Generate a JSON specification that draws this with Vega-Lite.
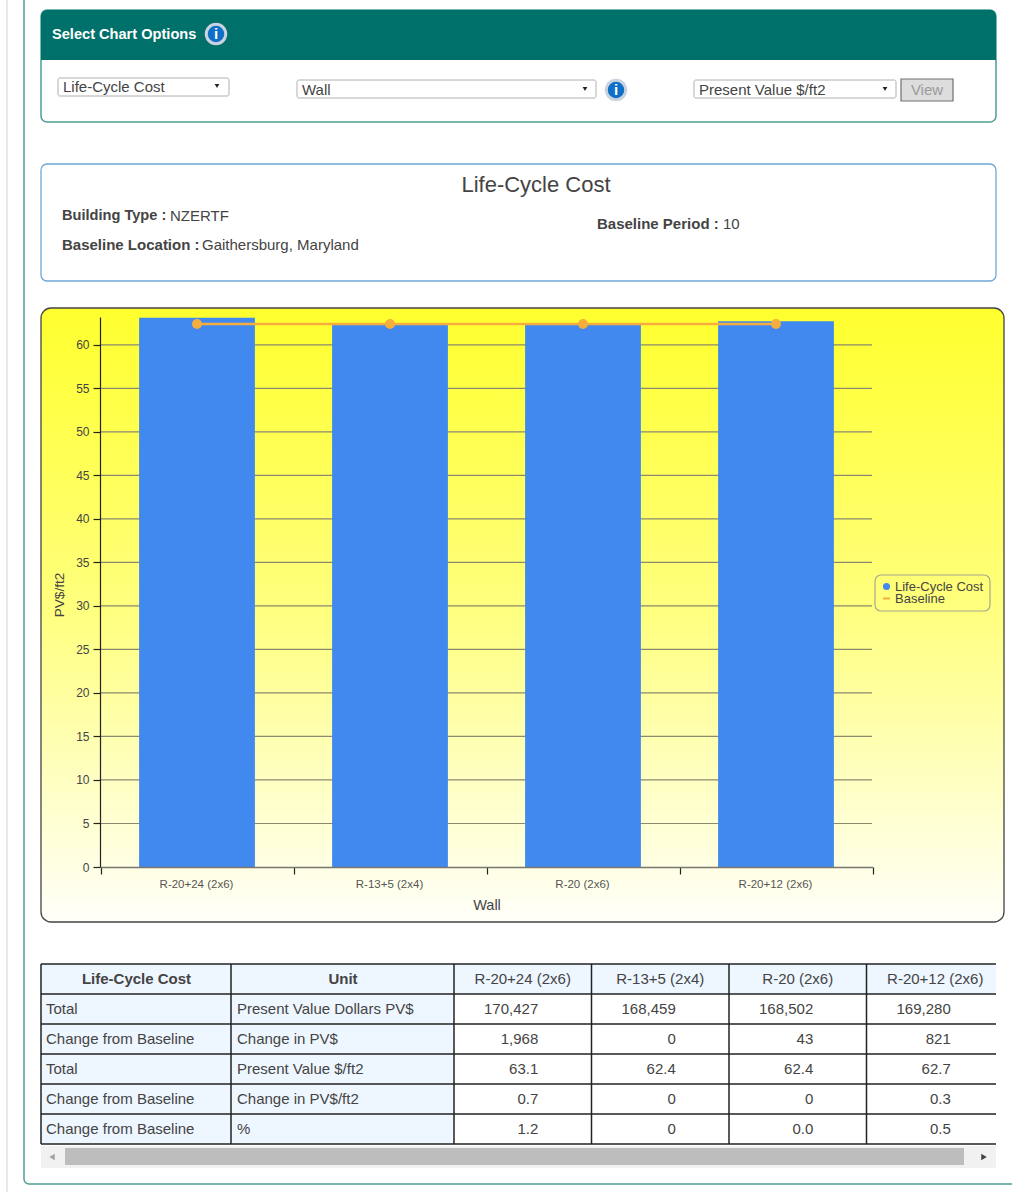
{
"$schema":"https://vega.github.io/schema/vega-lite/v6.json",
"width":1012,"height":1192,"padding":0,"autosize":{"type":"none"},"background":"#ffffff",
"config":{"view":{"stroke":null},"font":"Liberation Sans","text":{"font":"Liberation Sans","fontSize":15,"color":"#444444","baseline":"middle","align":"left"}},
"data":{"values":[{"chrome":1}]},
"datasets":{
"chart":[
{"wall":"R-20+24 (2x6)","series":"Life-Cycle Cost","value":63.1},
{"wall":"R-13+5 (2x4)","series":"Life-Cycle Cost","value":62.4},
{"wall":"R-20 (2x6)","series":"Life-Cycle Cost","value":62.4},
{"wall":"R-20+12 (2x6)","series":"Life-Cycle Cost","value":62.7}],
"baseline":[
{"wall":"R-20+24 (2x6)","series":"Baseline","value":62.4},
{"wall":"R-13+5 (2x4)","series":"Baseline","value":62.4},
{"wall":"R-20 (2x6)","series":"Baseline","value":62.4},
{"wall":"R-20+12 (2x6)","series":"Baseline","value":62.4}],
"ticks":[{"tick":5},{"tick":10},{"tick":15},{"tick":20},{"tick":25},{"tick":30},{"tick":35},{"tick":40},{"tick":45},{"tick":50},{"tick":55},{"tick":60}],
"rows":[
{"metric":"Total","unit":"Present Value Dollars PV$"},
{"metric":"Change from Baseline","unit":"Change in PV$"},
{"metric":"Total","unit":"Present Value $/ft2"},
{"metric":"Change from Baseline","unit":"Change in PV$/ft2"},
{"metric":"Change from Baseline","unit":"%"}],
"cells":[
{"unit":"Present Value Dollars PV$","wall":"R-20+24 (2x6)","text":"170,427"},
{"unit":"Present Value Dollars PV$","wall":"R-13+5 (2x4)","text":"168,459"},
{"unit":"Present Value Dollars PV$","wall":"R-20 (2x6)","text":"168,502"},
{"unit":"Present Value Dollars PV$","wall":"R-20+12 (2x6)","text":"169,280"},
{"unit":"Change in PV$","wall":"R-20+24 (2x6)","text":"1,968"},
{"unit":"Change in PV$","wall":"R-13+5 (2x4)","text":"0"},
{"unit":"Change in PV$","wall":"R-20 (2x6)","text":"43"},
{"unit":"Change in PV$","wall":"R-20+12 (2x6)","text":"821"},
{"unit":"Present Value $/ft2","wall":"R-20+24 (2x6)","text":"63.1"},
{"unit":"Present Value $/ft2","wall":"R-13+5 (2x4)","text":"62.4"},
{"unit":"Present Value $/ft2","wall":"R-20 (2x6)","text":"62.4"},
{"unit":"Present Value $/ft2","wall":"R-20+12 (2x6)","text":"62.7"},
{"unit":"Change in PV$/ft2","wall":"R-20+24 (2x6)","text":"0.7"},
{"unit":"Change in PV$/ft2","wall":"R-13+5 (2x4)","text":"0"},
{"unit":"Change in PV$/ft2","wall":"R-20 (2x6)","text":"0"},
{"unit":"Change in PV$/ft2","wall":"R-20+12 (2x6)","text":"0.3"},
{"unit":"%","wall":"R-20+24 (2x6)","text":"1.2"},
{"unit":"%","wall":"R-13+5 (2x4)","text":"0"},
{"unit":"%","wall":"R-20 (2x6)","text":"0.0"},
{"unit":"%","wall":"R-20+12 (2x6)","text":"0.5"}],
"rowTops":[{"row":"Header"},{"row":"Present Value Dollars PV$"},{"row":"Change in PV$"},{"row":"Present Value $/ft2"},{"row":"Change in PV$/ft2"},{"row":"%"}],
"walls":[{"wall":"R-20+24 (2x6)"},{"wall":"R-13+5 (2x4)"},{"wall":"R-20 (2x6)"},{"wall":"R-20+12 (2x6)"}],
"leadHeaders":[{"column":"metric","text":"Life-Cycle Cost"},{"column":"unit","text":"Unit"}]
},
"resolve":{"scale":{"x":"independent","y":"independent"},"axis":{"x":"independent","y":"independent"}},
"layer":[
{"mark":{"type":"rect","fill":"#e8e8e8"},"encoding":{"x":{"value":6},"x2":{"value":8},"y":{"value":0},"y2":{"value":1192}}},
{"mark":{"type":"rect","fill":"#e8e8e8"},"encoding":{"x":{"value":1010},"x2":{"value":1012},"y":{"value":0},"y2":{"value":1180}}},
{"mark":{"type":"rect","fill":"#ffffff","stroke":"#4f9f96","strokeWidth":1.5,"cornerRadius":5},"encoding":{"x":{"value":24},"x2":{"value":1030},"y":{"value":-20},"y2":{"value":1184}}},
{"mark":{"type":"rect","fill":"#ffffff","stroke":"#4f9f96","strokeWidth":1.5,"cornerRadius":6},"encoding":{"x":{"value":41},"x2":{"value":996},"y":{"value":10},"y2":{"value":122}}},
{"mark":{"type":"rect","fill":"#00706a","cornerRadiusTopLeft":6,"cornerRadiusTopRight":6},"encoding":{"x":{"value":41},"x2":{"value":996},"y":{"value":10},"y2":{"value":60}}},
{"mark":{"type":"text","x":52,"y":35,"text":"Select Chart Options","color":"#ffffff","fontWeight":"bold","fontSize":14.6}},
{"mark":{"type":"point","filled":true,"fill":"#0f6fc6","stroke":"#c9d3e0","strokeWidth":3,"size":380,"opacity":1},"encoding":{"x":{"value":216},"y":{"value":34}}},
{"mark":{"type":"text","x":216,"y":34,"text":"i","color":"#ffffff","fontWeight":"bold","align":"center","fontFamily":"Liberation Serif","fontSize":15}},
{"mark":{"type":"rect","fill":"#ffffff","stroke":"#b0b0b0","cornerRadius":2},"encoding":{"x":{"value":58},"x2":{"value":229},"y":{"value":78},"y2":{"value":96}}},
{"mark":{"type":"text","x":63,"y":87,"text":"Life-Cycle Cost"}},
{"mark":{"type":"point","shape":"triangle-down","filled":true,"color":"#222222","size":22,"opacity":1},"encoding":{"x":{"value":217},"y":{"value":86}}},
{"mark":{"type":"rect","fill":"#ffffff","stroke":"#b0b0b0","cornerRadius":2},"encoding":{"x":{"value":297},"x2":{"value":596},"y":{"value":80},"y2":{"value":98}}},
{"mark":{"type":"text","x":302,"y":90,"text":"Wall"}},
{"mark":{"type":"point","shape":"triangle-down","filled":true,"color":"#222222","size":22,"opacity":1},"encoding":{"x":{"value":585},"y":{"value":89}}},
{"mark":{"type":"point","filled":true,"fill":"#0f6fc6","stroke":"#c9d3e0","strokeWidth":3,"size":380,"opacity":1},"encoding":{"x":{"value":616},"y":{"value":90}}},
{"mark":{"type":"text","x":616,"y":90,"text":"i","color":"#ffffff","fontWeight":"bold","align":"center","fontFamily":"Liberation Serif","fontSize":15}},
{"mark":{"type":"rect","fill":"#ffffff","stroke":"#b0b0b0","cornerRadius":2},"encoding":{"x":{"value":694},"x2":{"value":896},"y":{"value":80},"y2":{"value":98}}},
{"mark":{"type":"text","x":699,"y":90,"text":"Present Value $/ft2"}},
{"mark":{"type":"point","shape":"triangle-down","filled":true,"color":"#222222","size":22,"opacity":1},"encoding":{"x":{"value":885},"y":{"value":89}}},
{"mark":{"type":"rect","fill":"#dddddd","stroke":"#707070","strokeWidth":1.2},"encoding":{"x":{"value":901},"x2":{"value":953},"y":{"value":79},"y2":{"value":101}}},
{"mark":{"type":"text","x":927,"y":90,"text":"View","color":"#9a9a9a","align":"center"}},
{"mark":{"type":"rect","fill":"#ffffff","stroke":"#6fa6d6","strokeWidth":1.3,"cornerRadius":6},"encoding":{"x":{"value":41},"x2":{"value":996},"y":{"value":164},"y2":{"value":281}}},
{"mark":{"type":"text","x":536,"y":185,"text":"Life-Cycle Cost","align":"center","fontSize":22}},
{"mark":{"type":"text","x":62,"y":216,"text":"Building Type :","fontWeight":"bold","fontSize":14.6}},
{"mark":{"type":"text","x":170,"y":216,"text":"NZERTF"}},
{"mark":{"type":"text","x":62,"y":245,"text":"Baseline Location :","fontWeight":"bold"}},
{"mark":{"type":"text","x":202,"y":245,"text":"Gaithersburg, Maryland"}},
{"mark":{"type":"text","x":597,"y":224,"text":"Baseline Period :","fontWeight":"bold"}},
{"mark":{"type":"text","x":723,"y":224,"text":"10"}},
{"mark":{"type":"rect","stroke":"#444444","strokeWidth":1.3,"cornerRadius":10,"fill":{"gradient":"linear","x1":0,"y1":0,"x2":0,"y2":1,"stops":[{"offset":0,"color":"#ffff2e"},{"offset":0.5,"color":"#ffff80"},{"offset":1,"color":"#fffffa"}]}},"encoding":{"x":{"value":41},"x2":{"value":1004},"y":{"value":308},"y2":{"value":922}}},
{"mark":{"type":"rect","fillOpacity":0,"stroke":"#a8a890","strokeWidth":1.2,"cornerRadius":6},"encoding":{"x":{"value":875},"x2":{"value":990},"y":{"value":575},"y2":{"value":611}}},
{"data":{"name":"ticks"},"mark":{"type":"rule","stroke":"#8a8a70","strokeWidth":1.2},
 "encoding":{"x":{"datum":0,"type":"quantitative","scale":{"domain":[0,1],"range":[100,872]},"axis":null},"x2":{"datum":1},
 "y":{"field":"tick","type":"quantitative","scale":{"domain":[0,63.2],"range":[867,317]},"axis":null}}},
{"data":{"name":"chart"},"mark":{"type":"bar","width":{"band":0.6}},
  "encoding":{
  "x":{"field":"wall","type":"nominal","sort":null,"scale":{"domain":["R-20+24 (2x6)","R-13+5 (2x4)","R-20 (2x6)","R-20+12 (2x6)"],"range":[100.5,872.5],"paddingInner":0,"paddingOuter":0},
   "axis":{"title":"Wall","zindex":1,"offset":-325,"labelAngle":0,"labelFontSize":11.5,"labelColor":"#555555","labelFont":"Liberation Sans","titleFont":"Liberation Sans","titleFontSize":14.5,"titleFontWeight":"normal","titleColor":"#444444","tickBand":"extent","tickOffset":-1,"labelOffset":-1,"tickSize":7,"tickColor":"#222222","tickWidth":1.2,"domainColor":"#777770","domainWidth":1.5,"labelPadding":4,"titlePadding":9}},
  "y":{"field":"value","type":"quantitative","scale":{"domain":[0,63.2],"range":[867,317],"nice":false,"zero":false},
   "axis":{"title":"PV$/ft2","titleY":594.5,"zindex":1,"offset":-100,"values":[0,5,10,15,20,25,30,35,40,45,50,55,60],"grid":false,"labelFontSize":12,"labelColor":"#444444","labelFont":"Liberation Sans","titleFont":"Liberation Sans","titleFontSize":13.6,"titleFontWeight":"normal","titleColor":"#444444","tickSize":7,"tickColor":"#222222","tickWidth":1.2,"domainColor":"#222222","domainWidth":1.2,"labelPadding":4,"titlePadding":9}},
  "fill":{"field":"series","type":"nominal","sort":null,"scale":{"domain":["Life-Cycle Cost"],"range":["#4189ee"]},"legend":{"orient":"none","legendX":880,"legendY":580,"title":null,"symbolType":"circle","labelFont":"Liberation Sans","labelFontSize":13,"labelColor":"#444444","labelOffset":2,"padding":0,"symbolSize":50}}}},
{"data":{"name":"baseline"},"mark":{"type":"line","strokeWidth":2.5},
  "encoding":{"x":{"field":"wall","type":"nominal","sort":null,"axis":null,"scale":{"domain":["R-20+24 (2x6)","R-13+5 (2x4)","R-20 (2x6)","R-20+12 (2x6)"],"range":[100.5,872.5],"paddingInner":0,"paddingOuter":0}},"y":{"field":"value","type":"quantitative","axis":null,"scale":{"domain":[0,63.2],"range":[867,317],"nice":false,"zero":false}},
  "stroke":{"field":"series","type":"nominal","scale":{"domain":["Baseline"],"range":["#f5ae3e"]},"legend":{"orient":"none","legendX":880,"legendY":592,"title":null,"symbolType":"stroke","symbolStrokeWidth":2,"labelFont":"Liberation Sans","labelFontSize":13,"labelColor":"#444444","labelOffset":2,"padding":0,"symbolSize":50}}}},
{"data":{"name":"baseline"},"mark":{"type":"point","filled":true,"color":"#f5ae3e","size":100,"opacity":1},
  "encoding":{"x":{"field":"wall","type":"nominal","sort":null,"axis":null,"scale":{"domain":["R-20+24 (2x6)","R-13+5 (2x4)","R-20 (2x6)","R-20+12 (2x6)"],"range":[100.5,872.5],"paddingInner":0,"paddingOuter":0}},"y":{"field":"value","type":"quantitative","axis":null,"scale":{"domain":[0,63.2],"range":[867,317],"nice":false,"zero":false}}}},
{"mark":{"type":"rect","fill":"#eef6ff"},"encoding":{"x":{"value":41},"x2":{"value":454},"y":{"value":964},"y2":{"value":1144}}},
{"mark":{"type":"rect","fill":"#eef6ff"},"encoding":{"x":{"value":454},"x2":{"value":996},"y":{"value":964},"y2":{"value":994}}},
{"data":{"name":"rowTops"},"mark":{"type":"rule","stroke":"#222222","strokeWidth":1.5},
 "encoding":{"x":{"value":41},"x2":{"value":996},"y":{"field":"row","type":"nominal","bandPosition":0,"sort":null,"axis":null,"scale":{"domain":["Header","Present Value Dollars PV$","Change in PV$","Present Value $/ft2","Change in PV$/ft2","%"],"range":[964,1144],"paddingInner":0,"paddingOuter":0}}}},
{"mark":{"type":"rule","stroke":"#222222","strokeWidth":1.5},"encoding":{"x":{"value":41},"x2":{"value":996},"y":{"value":1144}}},
{"data":{"name":"walls"},"mark":{"type":"rule","stroke":"#222222","strokeWidth":1.5},
 "encoding":{"y":{"value":964},"y2":{"value":1144},"x":{"field":"wall","type":"nominal","bandPosition":0,"sort":null,"axis":null,"scale":{"domain":["R-20+24 (2x6)","R-13+5 (2x4)","R-20 (2x6)","R-20+12 (2x6)"],"range":[454,1004],"paddingInner":0,"paddingOuter":0}}}},
{"mark":{"type":"rule","stroke":"#222222","strokeWidth":1.5},"encoding":{"x":{"value":41},"y":{"value":964},"y2":{"value":1144}}},
{"mark":{"type":"rule","stroke":"#222222","strokeWidth":1.5},"encoding":{"x":{"value":231},"y":{"value":964},"y2":{"value":1144}}},
{"data":{"name":"leadHeaders"},"mark":{"type":"text","fontWeight":"bold","align":"center","y":979},
 "encoding":{"x":{"field":"column","type":"nominal","sort":null,"axis":null,"scale":{"type":"point","domain":["metric","unit"],"range":[136.5,343],"padding":0}},"text":{"field":"text"}}},
{"data":{"name":"walls"},"mark":{"type":"text","align":"center","y":979},
 "encoding":{"x":{"field":"wall","type":"nominal","sort":null,"axis":null,"scale":{"domain":["R-20+24 (2x6)","R-13+5 (2x4)","R-20 (2x6)","R-20+12 (2x6)"],"range":[454,1004],"paddingInner":0,"paddingOuter":0}},"text":{"field":"wall"}}},
{"data":{"name":"rows"},"mark":{"type":"text","x":46},
 "encoding":{"y":{"field":"unit","type":"nominal","sort":null,"axis":null,"scale":{"domain":["Present Value Dollars PV$","Change in PV$","Present Value $/ft2","Change in PV$/ft2","%"],"range":[994,1144],"paddingInner":0,"paddingOuter":0}},"text":{"field":"metric"}}},
{"data":{"name":"rows"},"mark":{"type":"text","x":237},
 "encoding":{"y":{"field":"unit","type":"nominal","sort":null,"axis":null,"scale":{"domain":["Present Value Dollars PV$","Change in PV$","Present Value $/ft2","Change in PV$/ft2","%"],"range":[994,1144],"paddingInner":0,"paddingOuter":0}},"text":{"field":"unit"}}},
{"data":{"name":"cells"},"mark":{"type":"text","align":"right","dx":15.5},
 "encoding":{"x":{"field":"wall","type":"nominal","sort":null,"axis":null,"scale":{"domain":["R-20+24 (2x6)","R-13+5 (2x4)","R-20 (2x6)","R-20+12 (2x6)"],"range":[454,1004],"paddingInner":0,"paddingOuter":0}},
 "y":{"field":"unit","type":"nominal","sort":null,"axis":null,"scale":{"domain":["Present Value Dollars PV$","Change in PV$","Present Value $/ft2","Change in PV$/ft2","%"],"range":[994,1144],"paddingInner":0,"paddingOuter":0}},"text":{"field":"text"}}},
{"mark":{"type":"rect","fill":"#f1f1f1"},"encoding":{"x":{"value":41},"x2":{"value":996},"y":{"value":1146},"y2":{"value":1168}}},
{"mark":{"type":"rect","fill":"#bdbdbd"},"encoding":{"x":{"value":65},"x2":{"value":964},"y":{"value":1148},"y2":{"value":1165}}},
{"mark":{"type":"point","shape":"triangle-left","filled":true,"color":"#a3a3a3","size":40,"opacity":1},"encoding":{"x":{"value":52},"y":{"value":1157}}},
{"mark":{"type":"point","shape":"triangle-right","filled":true,"color":"#444444","size":40,"opacity":1},"encoding":{"x":{"value":984},"y":{"value":1157}}}
]
}
